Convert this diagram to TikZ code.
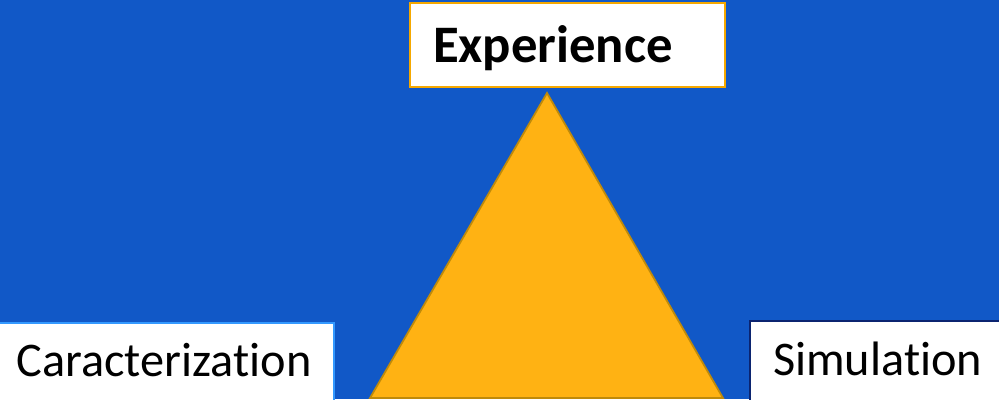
\documentclass[tikz,border=0pt]{standalone}
\usepackage{fontspec}
\setmainfont[Ligatures=NoCommon]{Carlito}
\usepackage{xcolor}
\definecolor{bgblue}{HTML}{1158C7}
\definecolor{gold}{HTML}{FFB213}
\definecolor{darkgold}{HTML}{BF8A0A}
\definecolor{orangeline}{HTML}{F5A800}
\definecolor{skyline}{HTML}{3399FF}
\definecolor{navyline}{HTML}{0B2470}

\begin{document}
\begin{tikzpicture}[x=0.02cm, y=-0.02cm,
    labelbox/.style={draw, fill=white, line width=1.2pt, anchor=north west,
      font=\fontsize{27.5}{32}\selectfont, text height=0.6cm, text depth=0.16cm}]
        % Hintergrund
        \useasboundingbox (0,0) rectangle (999,399);
        \fill[bgblue] (0,0) rectangle (999,399);
        \clip (0,0) rectangle (999,399);
        % Dreieck
        \filldraw[fill=gold, draw=darkgold, line width=1pt] (547,93)--(723,398)--(370,398)--cycle;
        % Boxen
        \node[labelbox, draw=orangeline, font=\fontsize{30}{34}\selectfont\bfseries,
          minimum width=6.3cm, minimum height=1.68cm, text width=5.38cm, align=left,
          inner xsep=0.46cm, text height=0.7cm, text depth=0cm] (experience) at (409,2) {Experience};
        \node[labelbox, draw=skyline, minimum width=6.8cm, minimum height=1.68cm] (caracterization) at (-7,322) {Caracterization};
        \node[labelbox, draw=navyline, minimum height=1.72cm, text width=4.3cm, align=left,
          inner xsep=0.46cm] (simulation) at (749,320) {Simulation};
\end{tikzpicture}
\end{document}
